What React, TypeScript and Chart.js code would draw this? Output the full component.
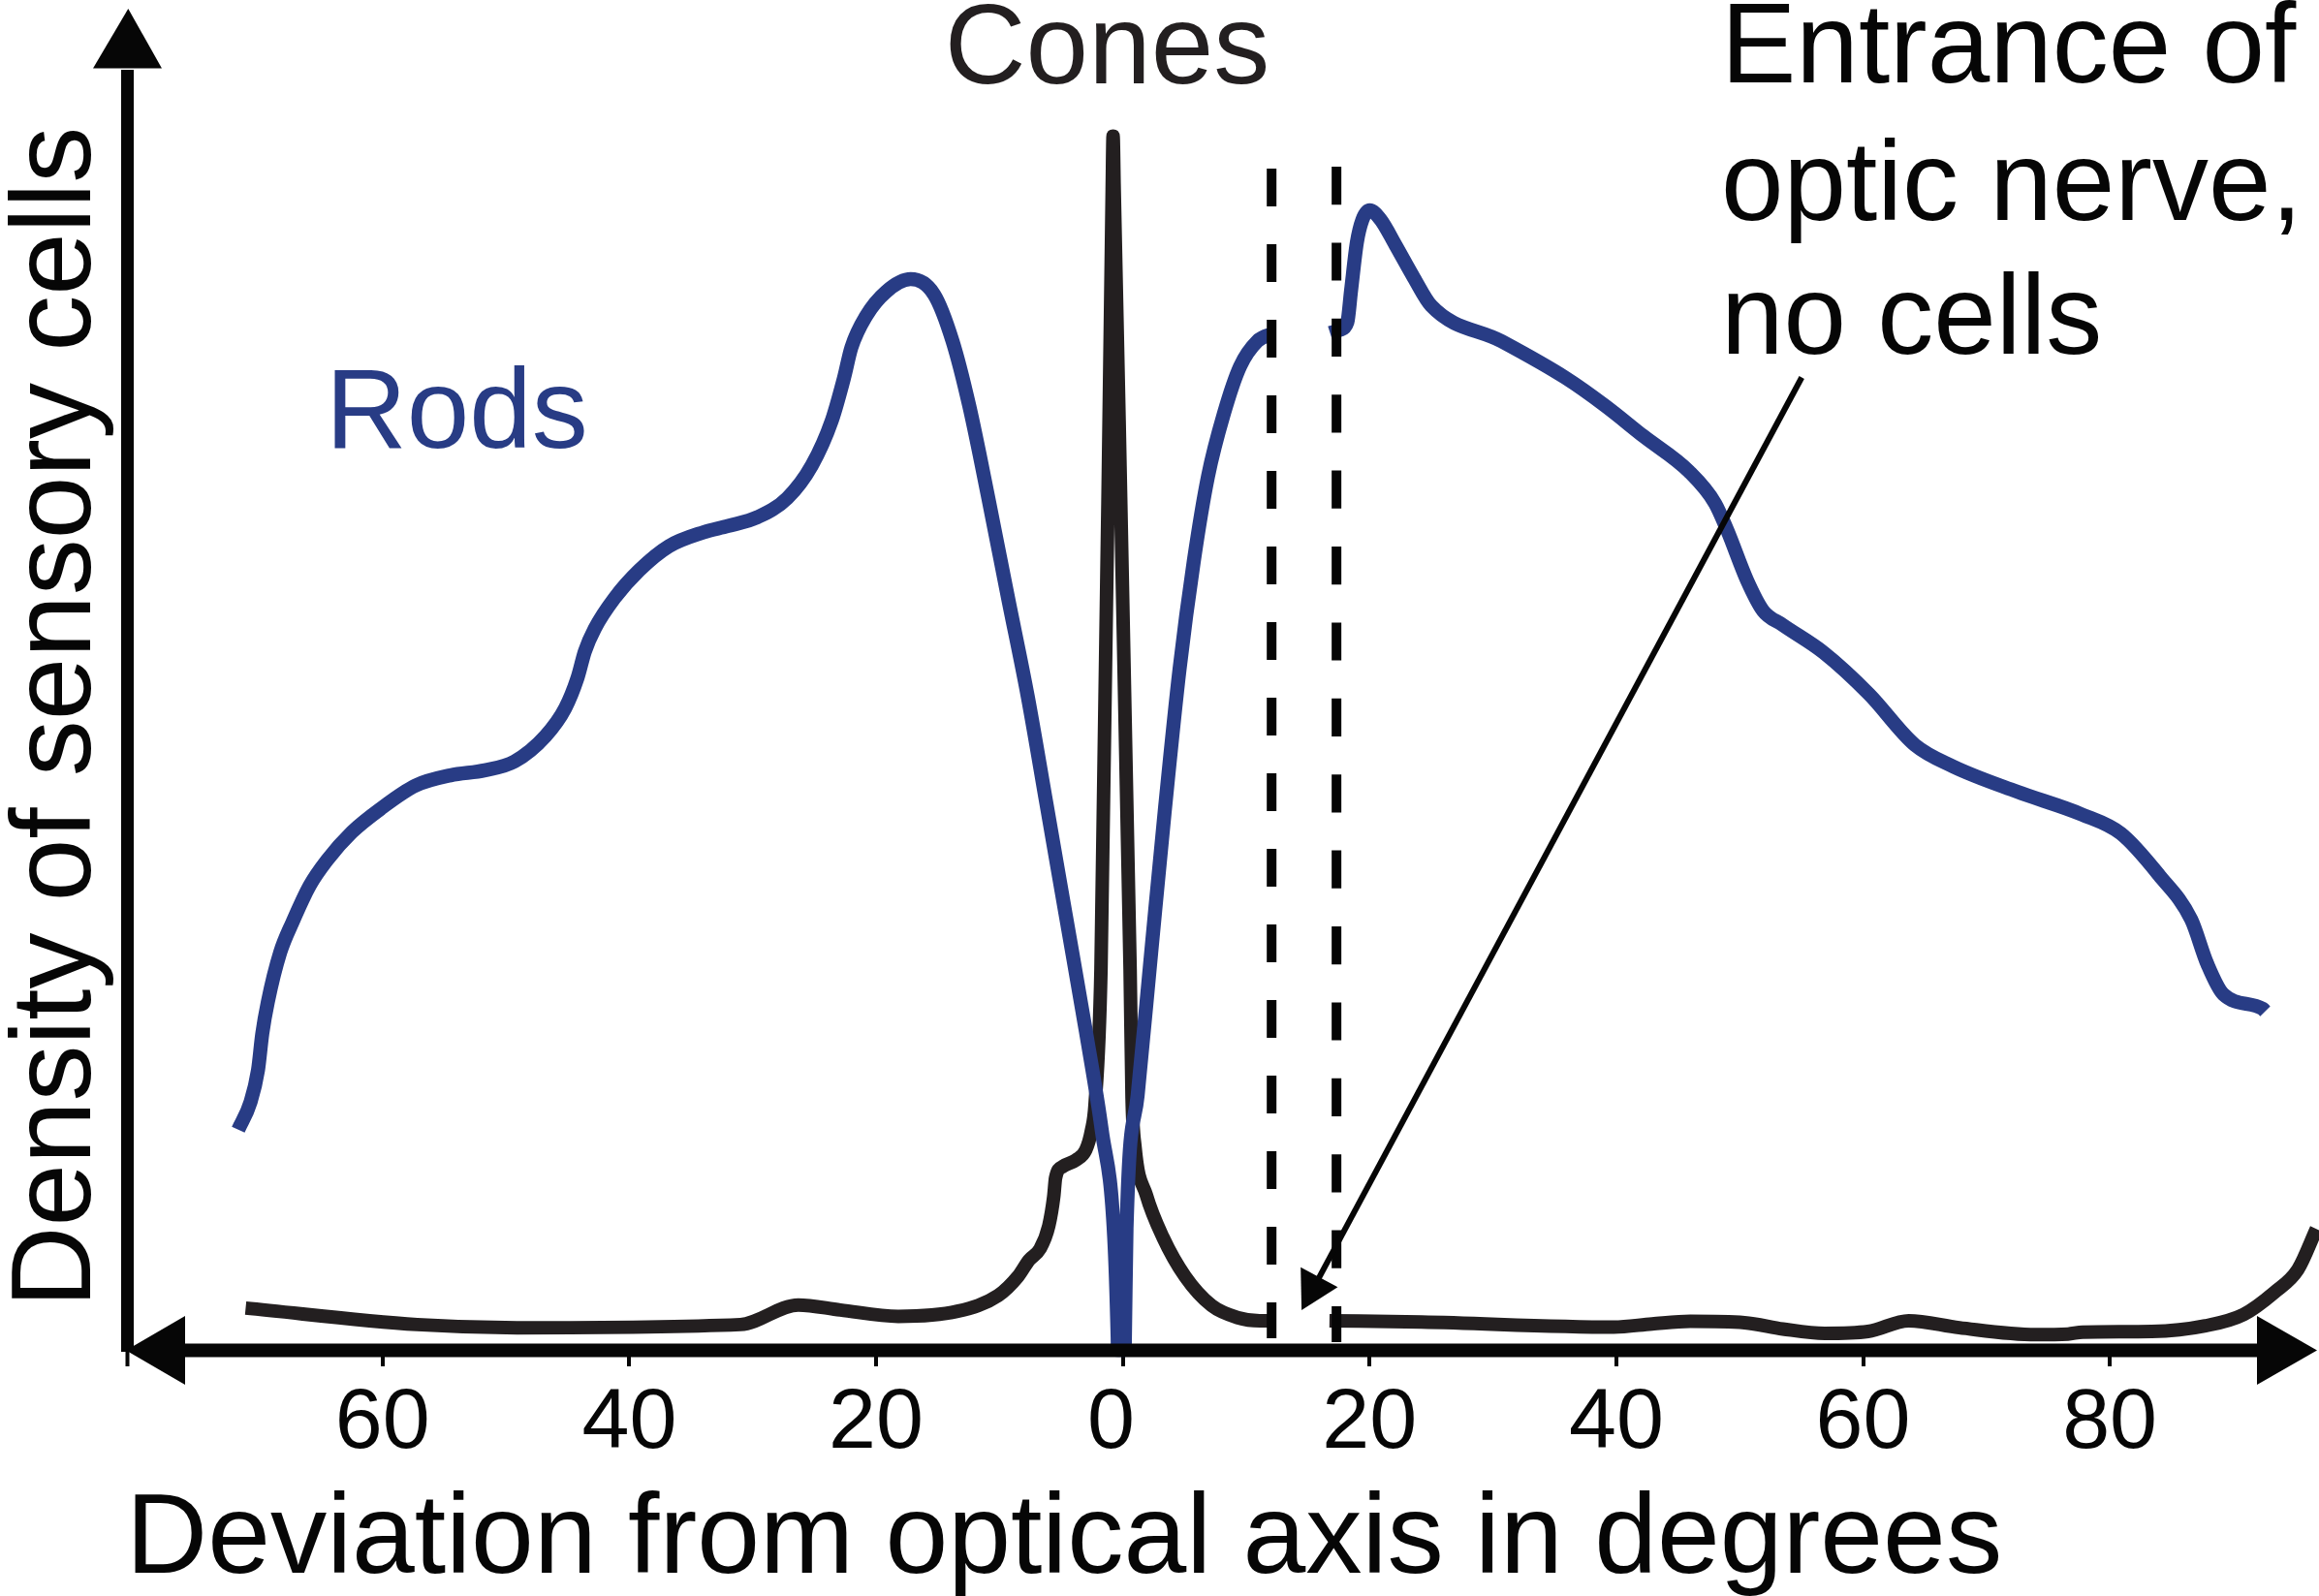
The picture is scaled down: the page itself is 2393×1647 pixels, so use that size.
import React, { useEffect, useRef } from 'react';
import { Chart, registerables } from 'chart.js';

Chart.register(...registerables);

const FONT = '"Liberation Sans", Arial, Helvetica, sans-serif';
const BLUE = '#283c85';
const CONE = '#231f20';
const INK = '#060606';

// x axis: deviation from optical axis (degrees); left side shown as absolute values
const xTicks = [-60, -40, -20, 0, 20, 40, 60, 80];

// Rods density (null = blind spot / optic disc)
const rodsDeg = [
  -71.7, -70.7, -70.1, -69.75, -69.3, -68.3, -67.3, -65.9, -64.5, -62.5, -60.1, -57.3, -54.5, -51.7,
  -49.3, -46.8, -45.2, -44.2, -43.6, -42.8, -41.2, -39.2, -36.8, -34.0, -32.0, -29.6, -27.2, -25.2,
  -23.6, -22.6, -22.0, -20.8, -19.2, -17.2, -15.3, -13.8, -12.45, -10.9, -9.3, -7.7, -6.2, -4.6,
  -3.0, -1.7, -0.7, -0.42, -0.4, 0.15, 0.17, 0.3, 1.2, 2.3, 3.4, 4.6, 5.75, 6.9, 8.2, 9.5, 10.9, 11.9, 12.3,
  14.5,
  16.8, 17.6, 18.2, 18.5, 18.97, 19.42, 20.0, 20.9, 22.1, 23.6, 25.0, 30.7, 35.9, 39.1, 42.2, 45.9,
  48.0, 49.0, 50.6, 51.9, 53.45, 56.8, 60.5, 64.2, 67.3, 72.5, 77.75, 80.9, 84.0, 86.6, 87.9, 89.2,
  92.4, 92.6,
];
const rodsDensity = [
  17.4, 19.6, 22.1, 25.0, 27.5, 31.4, 33.8, 36.7, 38.7, 40.9, 42.8, 44.6, 45.4, 45.8,
  46.5, 48.5, 50.7, 53.1, 55.2, 57.0, 59.4, 61.6, 63.5, 64.6, 65.1, 65.8, 67.3, 69.9,
  73.4, 76.8, 79.2, 81.7, 83.6, 84.6, 83.4, 79.7, 74.6, 67.3, 59.4, 51.6, 43.2, 34.2,
  25.2, 17.3, 8.9, 1.0, 0, 0, 1.0, 9.6, 20.1, 31.4, 42.6, 53.8, 62.3, 69.0, 74.0, 77.7, 79.7, 80.2, 80.25,
  null,
  80.35, 80.6, 81.2, 83.7, 87.5, 89.3, 90.05, 89.3, 87.3, 84.7, 82.5, 79.7, 76.8, 74.6, 72.2, 69.4,
  66.9, 64.75, 60.8, 58.4, 57.3, 55.1, 51.8, 47.8, 46.1, 44.1, 42.3, 40.8, 37.5, 34.0, 30.5, 28.1,
  26.95, 26.75,
];

// Cones density
const conesDeg = [
  -71.1, -57.2, -49.1, -31.0, -26.3, -22.9, -18.2, -13.4, -10.1, -8.5, -7.6, -6.7, -6.0, -5.6,
  -5.45, -4.85, -3.8, -3.0, -2.55, -2.25, -1.77, -0.86, -0.79, -0.7, 0.59, 0.75, 0.98, 1.9,
  3.25, 5.05, 7.2, 9.3, 11.1, 12.35,
  14.5,
  16.75, 24.2, 39.8, 42.9, 46.0, 50.4, 53.5, 56.9, 60.4, 63.7, 67.8, 74.0, 76.6, 77.8, 83.4,
  87.75, 90.85, 93.35, 95.25, 96.75,
];
const conesDensity = [
  3.3, 2.0, 1.75, 2.0, 3.55, 3.15, 2.65, 3.05, 4.3, 5.8, 7.1, 8.0, 9.8, 12.1,
  13.6, 14.5, 15.0, 15.8, 17.3, 19.4, 30.1, 91.7, 95.9, 91.7, 30.1, 19.9, 16.1, 12.25,
  8.9, 5.8, 3.5, 2.55, 2.3, 2.3,
  null,
  2.3, 2.2, 1.8, 2.05, 2.25, 2.15, 1.65, 1.3, 1.45, 2.3, 1.75, 1.2, 1.25, 1.4, 1.45,
  1.9, 2.8, 4.55, 6.35, 9.55,
];

// Optic disc edges (dashed lines)
const discEdgesDeg = [12.06, 17.32];
const discTop = [93.34, 93.49];
const discBottom = [0.92, 0.61];

// Annotation arrow pointing at the optic disc: [deg, density]
const arrowFrom = [55.03, 76.84];
const arrowTo = [14.49, 3.14];

const decor = {
  id: 'decor',
  afterDatasetsDraw(chart: any) {
    const { ctx, chartArea: a } = chart;
    const xs = chart.scales.x;
    const ys = chart.scales.y;
    ctx.save();
    ctx.fillStyle = INK;
    ctx.strokeStyle = INK;
    ctx.lineCap = 'butt';

    // y axis
    const yx = a.left + 1.5;
    ctx.lineWidth = 13;
    ctx.beginPath();
    ctx.moveTo(yx, a.bottom + 2);
    ctx.lineTo(yx, a.top - 15);
    ctx.stroke();
    ctx.lineWidth = 4;
    ctx.beginPath();
    ctx.moveTo(yx, a.bottom);
    ctx.lineTo(yx, a.bottom + 17);
    ctx.stroke();
    ctx.beginPath();
    ctx.moveTo(yx - 35.5, a.top - 16.5);
    ctx.lineTo(yx + 35.5, a.top - 16.5);
    ctx.lineTo(yx + 0.8, a.top - 78);
    ctx.closePath();
    ctx.fill();

    // x axis with arrows at both ends
    const yb = a.bottom + 0.5;
    ctx.lineWidth = 14;
    ctx.beginPath();
    ctx.moveTo(a.left + 58, yb);
    ctx.lineTo(a.right - 59, yb);
    ctx.stroke();
    ctx.beginPath();
    ctx.moveTo(a.left, yb);
    ctx.lineTo(a.left + 61, yb - 35.5);
    ctx.lineTo(a.left + 61, yb + 35.5);
    ctx.closePath();
    ctx.fill();
    ctx.beginPath();
    ctx.moveTo(a.right, yb);
    ctx.lineTo(a.right - 62, yb - 35.5);
    ctx.lineTo(a.right - 62, yb + 35.5);
    ctx.closePath();
    ctx.fill();

    // annotation arrow
    const x0 = xs.getPixelForValue(arrowFrom[0]);
    const y0 = ys.getPixelForValue(arrowFrom[1]);
    const x1 = xs.getPixelForValue(arrowTo[0]);
    const y1 = ys.getPixelForValue(arrowTo[1]);
    const len = Math.hypot(x1 - x0, y1 - y0);
    const ux = (x1 - x0) / len;
    const uy = (y1 - y0) / len;
    const headL = 38.5;
    const headW = 21.7;
    const bx = x1 - ux * headL;
    const by = y1 - uy * headL;
    ctx.lineWidth = 6;
    ctx.beginPath();
    ctx.moveTo(x0, y0);
    ctx.lineTo(bx + ux * 2, by + uy * 2);
    ctx.stroke();
    ctx.beginPath();
    ctx.moveTo(x1, y1);
    ctx.lineTo(bx - uy * headW, by + ux * headW);
    ctx.lineTo(bx + uy * headW, by - ux * headW);
    ctx.closePath();
    ctx.fill();

    // labels
    ctx.textBaseline = 'alphabetic';
    ctx.font = `116px ${FONT}`;
    ctx.fillStyle = CONE;
    ctx.textAlign = 'center';
    ctx.fillText('Cones', 1142.5, 86);
    ctx.fillStyle = BLUE;
    ctx.textAlign = 'left';
    ctx.fillText('Rods', 336, 462);
    ctx.fillStyle = INK;
    ctx.fillText('Entrance of', 1776, 85);
    ctx.fillText('optic nerve,', 1776, 226.5);
    ctx.fillText('no cells', 1776, 365);
    ctx.restore();
  },
};

export default function App() {
  const ref = useRef<HTMLCanvasElement | null>(null);

  useEffect(() => {
    document.body.style.margin = '0';
    const canvas = ref.current;
    if (!canvas) return;
    const pts = (xsArr: number[], ysArr: (number | null)[]) => xsArr.map((x, i) => ({ x, y: ysArr[i] }));
    const dash = (i: number, pattern: number[]) => ({
      label: 'disc' + i,
      data: [
        { x: discEdgesDeg[i], y: discTop[i] },
        { x: discEdgesDeg[i], y: discBottom[i] },
      ],
      borderColor: INK,
      borderWidth: 10,
      borderDash: pattern,
      borderCapStyle: 'butt',
      pointRadius: 0,
      tension: 0,
      fill: false,
      clip: false,
    });
    const chart = new Chart(canvas, {
      type: 'line',
      data: {
        datasets: [
          dash(0, [39, 39]) as any,
          dash(1, [39.2, 39.2]) as any,
          {
            label: 'Rods',
            data: pts(rodsDeg, rodsDensity),
            borderColor: BLUE,
            borderWidth: 14.5,
            cubicInterpolationMode: 'monotone',
            pointRadius: 0,
            spanGaps: false,
            fill: false,
            clip: false,
          } as any,
          {
            label: 'Cones',
            data: pts(conesDeg, conesDensity),
            borderColor: CONE,
            borderWidth: 14,
            cubicInterpolationMode: 'monotone',
            pointRadius: 0,
            spanGaps: false,
            fill: false,
            clip: false,
          } as any,
        ],
      },
      options: {
        animation: false,
        responsive: false,
        maintainAspectRatio: false,
        devicePixelRatio: 1,
        events: [],
        layout: { padding: { left: 0, top: 87, right: 2, bottom: 0 } },
        plugins: {
          legend: { display: false },
          tooltip: { enabled: false },
          title: { display: false },
        },
        elements: { point: { radius: 0 } },
        scales: {
          x: {
            type: 'linear',
            position: 'bottom',
            min: -80.8,
            max: 96.8,
            afterBuildTicks: (s: any) => {
              s.ticks = xTicks.map((v) => ({ value: v }));
            },
            afterFit: (s: any) => {
              s.height = 254;
            },
            grid: {
              display: true,
              drawOnChartArea: false,
              drawTicks: true,
              tickLength: 17,
              color: INK,
              lineWidth: 4,
            },
            border: { display: false },
            ticks: {
              callback: (v: any) => (Number(v) === 0 ? '0 ' : String(Math.abs(Number(v)))),
              font: { family: FONT, size: 88 },
              color: INK,
              padding: 7,
              maxRotation: 0,
              autoSkip: false,
            },
            title: {
              display: true,
              text: 'Deviation from optical axis in degrees',
              align: 'start',
              color: INK,
              font: { family: FONT, size: 116.5, lineHeight: 0.9 },
              padding: { top: 0, bottom: 3.6 },
            },
          },
          y: {
            type: 'linear',
            min: 0,
            max: 100,
            afterFit: (s: any) => {
              s.width = 130;
            },
            grid: { display: false },
            border: { display: false },
            ticks: { display: false },
            title: {
              display: true,
              text: 'Density of sensory cells',
              color: INK,
              font: { family: FONT, size: 116, lineHeight: 1 },
              padding: { top: 3.3, bottom: 0 },
            },
          },
        },
      } as any,
      plugins: [decor],
    });
    return () => chart.destroy();
  }, []);

  return (
    <div style={{ position: 'fixed', left: 0, top: 0, width: 2393, height: 1647, background: '#fff' }}>
      <canvas ref={ref} width={2393} height={1647} style={{ display: 'block', width: 2393, height: 1647 }} />
    </div>
  );
}
